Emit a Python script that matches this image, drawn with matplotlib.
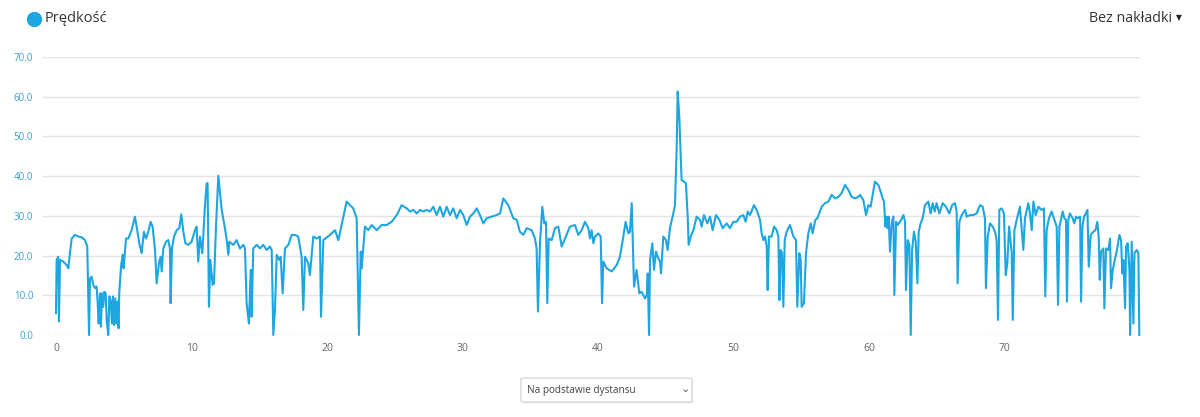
import matplotlib.pyplot as plt
from matplotlib.patches import FancyBboxPatch
from matplotlib.lines import Line2D

# distance (km) and speed (km/h)
dist = [0.0, 0.05, 0.17, 0.22, 0.30, 0.54, 0.79, 0.91, 1.03, 1.16, 1.40, 1.65, 1.89, 2.14, 2.31, 2.44,
        2.51, 2.63, 2.76, 2.88, 3.00, 3.08, 3.15, 3.25, 3.32, 3.39, 3.49, 3.57, 3.67, 3.74, 3.86, 3.94,
        4.03, 4.13, 4.21, 4.28, 4.38, 4.45, 4.53, 4.62, 4.67, 4.80, 4.92, 4.99, 5.17, 5.34, 5.58, 5.83,
        5.95, 6.15, 6.32, 6.49, 6.64, 6.81, 6.99, 7.13, 7.31, 7.43, 7.60, 7.72, 7.80, 7.92, 8.12, 8.29,
        8.41, 8.46, 8.56, 8.71, 8.91, 9.10, 9.25, 9.40, 9.55, 9.77, 10.01, 10.26, 10.38, 10.50, 10.63,
        10.80, 10.99, 11.12, 11.19, 11.29, 11.39, 11.56, 11.66, 11.81, 11.98, 12.23, 12.47, 12.60, 12.72,
        12.79, 13.09, 13.33, 13.58, 13.83, 13.95, 14.07, 14.24, 14.37, 14.44, 14.56, 14.81, 15.06, 15.30,
        15.55, 15.79, 15.92, 16.04, 16.16, 16.29, 16.48, 16.58, 16.73, 16.90, 17.15, 17.39, 17.64, 17.88,
        18.13, 18.25, 18.38, 18.62, 18.74, 18.99, 19.24, 19.48,
        19.56, 19.73, 20.22, 20.59, 20.84, 21.08, 21.45, 21.70, 21.94, 22.19, 22.36, 22.49, 22.56, 22.80,
        23.05, 23.30, 23.67, 24.03, 24.40, 24.77, 25.15, 25.51, 25.88, 26.13, 26.37, 26.62, 26.86, 27.11,
        27.36, 27.60, 27.85, 28.09, 28.34, 28.58, 28.83, 29.08, 29.32, 29.57, 29.82, 30.06, 30.31, 30.55,
        30.80, 31.05, 31.29, 31.54, 31.78, 32.15, 32.52, 32.77, 33.01, 33.38, 33.75, 34.00, 34.24, 34.49,
        34.74, 35.10, 35.35, 35.47, 35.57, 35.72, 35.89, 36.04, 36.16, 36.26, 36.36, 36.58, 36.83, 37.07,
        37.32, 37.57, 37.93, 38.30, 38.55, 38.80, 39.04, 39.29,
        39.41, 39.53, 39.66, 39.78, 40.02, 40.20, 40.30, 40.39, 40.64, 41.01, 41.38, 41.62, 41.87, 42.04,
        42.24, 42.36, 42.49, 42.66, 42.85, 43.05, 43.22, 43.47, 43.60, 43.67, 43.77, 43.84, 44.01, 44.13,
        44.28, 44.45, 44.58, 44.65, 44.82, 45.02, 45.14, 45.31, 45.56, 45.68, 45.81, 45.88, 46.00, 46.17,
        46.35, 46.49, 46.62, 46.69, 46.84, 47.04, 47.28, 47.53, 47.65, 47.82, 48.07, 48.27, 48.46, 48.71,
        48.96, 49.20, 49.50, 49.74, 49.99, 50.23, 50.48, 50.73, 50.90, 51.05, 51.22, 51.51, 51.71, 51.96,
        52.08, 52.20, 52.33, 52.45, 52.52, 52.62, 52.82, 52.99, 53.19, 53.31, 53.39, 53.48, 53.58, 53.68,
        53.78, 53.92, 54.17, 54.42, 54.61, 54.71, 54.86, 54.96, 55.03, 55.20, 55.35, 55.52, 55.70, 55.84,
        56.04, 56.19, 56.38, 56.51, 56.75, 57.00, 57.25, 57.49, 57.74, 57.98, 58.23, 58.48, 58.72, 58.97,
        59.21,
        59.34, 59.58, 59.78, 59.95, 60.12, 60.44, 60.69, 60.86, 61.01, 61.11, 61.21, 61.30, 61.38, 61.45,
        61.55, 61.67, 61.80, 61.87, 62.00, 62.12, 62.29, 62.54, 62.66, 62.73, 62.86, 62.98, 63.08, 63.18,
        63.32, 63.45, 63.57, 63.67, 63.81, 63.96, 64.13, 64.38, 64.55, 64.70, 64.85, 64.99, 65.19, 65.44,
        65.68, 65.93, 66.13, 66.35, 66.47, 66.54, 66.67, 66.84, 67.09, 67.21, 67.45, 67.70, 67.94, 68.19,
        68.39, 68.56, 68.63, 68.76, 68.93, 69.13, 69.30, 69.42, 69.52, 69.62, 69.79, 69.96, 70.09, 70.21,
        70.34, 70.41, 70.53, 70.61, 70.73, 70.90, 71.14, 71.39, 71.51, 71.76, 71.88, 72.01, 72.13, 72.30,
        72.50, 72.74, 72.91, 73.01, 73.11, 73.28, 73.48, 73.60, 73.73, 73.85, 73.95, 74.05, 74.17, 74.29,
        74.42, 74.54, 74.61, 74.71, 74.83, 75.03, 75.15, 75.28, 75.40, 75.58, 75.65, 75.75, 75.87, 76.00,
        76.12, 76.22, 76.36, 76.56, 76.71, 76.85, 76.95, 77.03, 77.12, 77.29, 77.37, 77.49, 77.66, 77.79,
        77.86, 77.99, 78.16, 78.28, 78.48, 78.60, 78.70, 78.77, 78.90, 78.97, 79.09, 79.22, 79.27, 79.39,
        79.51, 79.59, 79.76, 79.88, 79.95]

speed = [5.5, 18.9, 19.7, 3.4, 18.9, 18.5, 17.6, 16.8, 20.6, 24.3, 25.2, 24.8, 24.6, 23.9, 22.3, 0.0,
         14.3, 14.7, 12.6, 11.8, 12.2, 8.0, 2.9, 10.5, 2.1, 10.5, 7.1, 10.9, 10.5, 3.8, 0.0, 9.7,
         8.8, 2.9, 9.7, 2.5, 9.2, 2.9, 8.4, 1.7, 10.5, 17.2, 20.2, 16.8, 24.3, 24.3, 26.4, 29.8,
         27.3, 23.1, 20.6, 26.0, 24.3, 26.0, 28.5, 27.3, 21.4, 13.0, 18.1, 19.7, 16.0, 21.8, 23.5, 23.9,
         21.8, 8.0, 21.8, 24.8, 26.4, 26.9, 30.4, 26.0, 23.1, 22.7, 23.5, 26.4, 27.3, 18.5, 24.8,
         20.6, 32.3, 38.2, 38.2, 7.1, 18.9, 12.6, 13.0, 27.3, 40.1, 31.5, 26.9, 23.9, 20.2,
         23.5, 22.7, 23.9, 21.8, 22.7, 21.8, 8.0, 2.9, 16.4, 4.6, 21.8, 22.7, 21.8, 22.7,
         21.4, 22.3, 21.4, 0.0, 6.3, 20.2, 18.9, 19.7, 10.5, 21.8, 22.7, 25.2, 25.2, 24.8,
         19.7, 6.3, 19.7, 18.1, 15.1, 24.8, 24.3, 24.8,
         4.6, 23.9, 25.2, 26.4, 23.9, 27.7, 33.6, 32.7, 31.9, 29.4, 0.0, 21.0, 16.8, 27.3,
         26.4, 27.7, 26.4, 27.7, 27.7, 28.5, 30.2, 32.7, 31.9, 31.1, 31.5, 30.6, 31.5, 31.1,
         31.5, 31.1, 32.3, 30.2, 32.3, 29.8, 32.3, 30.2, 31.9, 29.4, 31.5, 30.2, 27.7, 29.8,
         30.6, 31.9, 30.2, 28.1, 29.4, 29.8, 30.2, 30.6, 34.4, 32.7, 29.4, 29.0, 26.0, 25.2,
         26.9, 26.4, 24.3, 21.8, 5.9, 23.1, 32.3, 28.1, 28.5, 8.0, 24.3, 23.9, 26.9, 27.3,
         22.3, 24.3, 27.3, 27.7, 25.2, 26.4, 28.5, 26.9,
         24.3, 26.4, 23.1, 24.8, 25.6, 24.8, 8.0, 18.5, 16.8, 16.0, 17.6, 19.7, 24.8, 28.5,
         25.6, 26.0, 33.2, 12.2, 16.4, 10.5, 10.9, 9.2, 10.1, 15.5, 0.0, 18.9, 23.1, 16.4,
         21.0, 19.3, 18.5, 15.5, 24.8, 23.9, 21.4, 26.9, 30.6, 32.7, 47.4, 61.3, 55.0, 39.0,
         38.6, 38.2, 29.8, 22.7, 24.8, 26.4, 29.8, 29.0, 27.3, 30.2, 28.1, 29.8, 26.4, 30.2,
         29.0, 26.9, 28.1, 26.9, 28.5, 28.5, 29.8, 30.2, 28.5, 31.1, 30.2, 32.7, 31.5, 29.0,
         25.6, 23.9, 24.8, 22.3, 11.3, 24.8, 24.8, 27.3, 26.4, 24.8, 8.8, 21.4, 20.6, 7.1,
         23.9, 26.0, 27.7, 24.8, 23.9, 7.1, 20.6, 18.9, 7.1, 8.0, 20.6, 25.6, 28.1, 25.6,
         29.0, 29.4, 31.1, 32.3, 33.2, 33.6, 35.3, 34.4, 34.8, 35.7, 37.8, 36.5, 34.8, 34.4,
         34.8,
         35.3, 34.0, 30.2, 32.7, 32.3, 38.6, 37.8, 36.1, 34.4, 33.6, 27.3, 29.8, 26.9, 29.8,
         21.0, 28.1, 29.8, 10.1, 28.5, 27.7, 28.5, 30.2, 28.5, 11.3, 23.9, 22.7, 0.0, 21.4,
         26.0, 23.5, 13.0, 26.0, 28.1, 29.4, 32.7, 33.6, 30.6, 33.2, 31.1, 33.2, 30.6, 33.2,
         32.3, 30.6, 32.7, 33.2, 31.1, 13.0, 28.5, 30.2, 31.5, 29.8, 30.2, 30.2, 30.6, 32.7,
         32.3, 29.4, 11.8, 24.8, 28.1, 27.3, 26.0, 23.9, 3.8, 31.5, 31.9, 30.6, 15.1, 18.1,
         27.3, 24.8, 21.0, 3.8, 26.4, 29.0, 32.3, 21.4, 29.4, 33.2, 30.6, 26.4, 33.6, 30.2,
         32.3, 31.5, 31.9, 9.7, 26.4, 29.4, 31.1, 29.8, 28.5, 27.3, 7.6, 27.3, 29.0, 31.1,
         29.4, 29.0, 8.4, 29.0, 30.6, 29.4, 28.1, 29.8, 29.4, 29.8, 8.4, 27.3, 29.8, 30.6,
         31.5, 17.2, 25.2, 26.0, 26.4, 28.5, 24.8, 13.9, 21.0, 21.8, 6.7, 21.8, 21.4, 24.3,
         11.8, 16.4, 19.3, 21.0, 25.2, 23.9, 15.5, 18.9, 6.7, 22.3, 23.1, 16.4, 0.0, 23.5,
         2.9, 20.6, 21.4, 20.6, 0.0]

y_ticks = [0, 10, 20, 30, 40, 50, 60, 70]
x_ticks = [0, 10, 20, 30, 40, 50, 60, 70]

plt.rcParams['font.family'] = ['Open Sans', 'DejaVu Sans']

fig = plt.figure(figsize=(12, 4.17), dpi=100)
ax = fig.add_axes([0.0358, 0.1966, 0.9142, 0.6667])

line_color = '#1ea6e0'
ax.plot(dist, speed, color=line_color, lw=1.5, clip_on=False, zorder=3)

ax.set_xlim(-0.96, 80)
ax.set_ylim(0, 70)
ax.set_yticks(y_ticks)
ax.set_yticklabels([f'{v:.1f}' for v in y_ticks], color='#3a9fd0', fontsize=7)
ax.set_xticks(x_ticks)
ax.set_xticklabels([str(v) for v in x_ticks], color='#666666', fontsize=7.5)
ax.tick_params(axis='y', length=0, pad=7)
ax.tick_params(axis='x', length=0, pad=6)
ax.grid(axis='y', color='#e4e4e4', lw=1)
ax.grid(axis='x', visible=False)
for s in ax.spines.values():
    s.set_visible(False)
ax.set_axisbelow(True)

# legend-like header
fig.add_artist(Line2D([34 / 1200], [1 - 19 / 417], marker='o', markersize=10,
                      color=line_color, transform=fig.transFigure))
fig.text(45 / 1200, 1 - 19 / 417, 'Prędkość', color='#333333', fontsize=10.5, va='center')
fig.text(1172 / 1200, 1 - 19 / 417, 'Bez nakładki', color='#333333', fontsize=10.3,
         va='center', ha='right')
fig.text(1179 / 1200, 1 - 18 / 417, '\u25bc', color='#222222', fontsize=5.5,
         va='center', ha='center', family='DejaVu Sans')

# dropdown below the chart
shadow = FancyBboxPatch((522 / 1200, 1 - 403.5 / 417), 171 / 1200, 24 / 417,
                        boxstyle='round,pad=0,rounding_size=0.003', transform=fig.transFigure,
                        facecolor='#ececec', edgecolor='none')
fig.patches.append(shadow)
box = FancyBboxPatch((521 / 1200, 1 - 402 / 417), 171 / 1200, 24 / 417,
                     boxstyle='round,pad=0,rounding_size=0.003', transform=fig.transFigure,
                     facecolor='white', edgecolor='#d0d0d0', lw=0.8)
fig.patches.append(box)
fig.text(527 / 1200, 1 - 390 / 417, 'Na podstawie dystansu', color='#444444', fontsize=7.2,
         va='center')
fig.text(685 / 1200, 1 - 389 / 417, '\u2304', color='#555555', fontsize=8,
         va='center', ha='center', family='DejaVu Sans')

fig.savefig('out.png', dpi=100, facecolor='white')
